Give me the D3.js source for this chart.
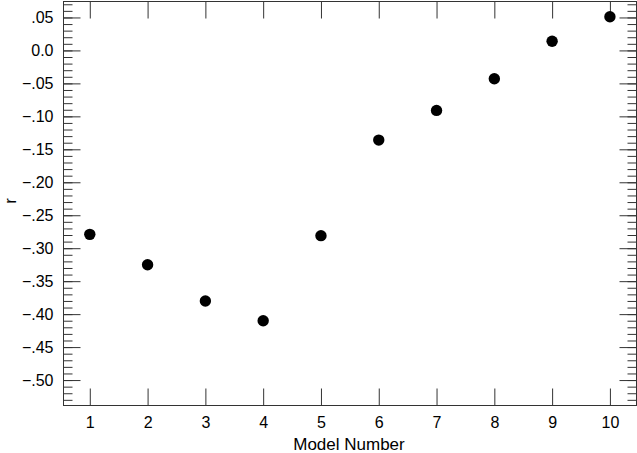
<!DOCTYPE html>
<html>
<head>
<meta charset="utf-8">
<script src="https://cdn.jsdelivr.net/npm/d3@7"></script>
<style>
  html, body { margin: 0; padding: 0; background: #fff; }
  svg { display: block; }
  text { font-family: "Liberation Sans", Arial, Helvetica, sans-serif; fill: #000; }
</style>
</head>
<body>
<svg id="chart" width="637" height="453"></svg>
<script>
// ---- data ----
const modelNumbers = [1, 2, 3, 4, 5, 6, 7, 8, 9, 10];
const rValues = [-0.279, -0.325, -0.380, -0.410, -0.281, -0.136, -0.091, -0.043, 0.014, 0.051];
const xTickValues = [1, 2, 3, 4, 5, 6, 7, 8, 9, 10];
const yMajorTicks = [0.05, 0.0, -0.05, -0.10, -0.15, -0.20, -0.25, -0.30, -0.35, -0.40, -0.45, -0.50];
const yMinorTicks = d3.range(-53, 8).map(d => d / 100);
const xLabel = "Model Number";
const yLabel = "r";

// ---- layout ----
const svg = d3.select("#chart");
const L = 63.5, R = 636.5, T = 1.5, B = 405.5;

const x = d3.scaleLinear().domain([0.545, 10.46]).range([L, R]);
const y = d3.scaleLinear().domain([-0.5386, 0.0742]).range([B, T]);

function fmtY(v) {
  if (Math.abs(v) < 1e-9) return "0.0";
  let s = Math.abs(v).toFixed(2).replace(/^0/, "");
  return (v < 0 ? "\u2212" : "") + s;
}

const axisColor = "#333";

// minor y ticks (left & right)
const gMinL = svg.append("g").attr("transform", `translate(${L},0)`)
  .call(d3.axisLeft(y).tickValues(yMinorTicks).tickSize(-9).tickFormat(""));
const gMinR = svg.append("g").attr("transform", `translate(${R},0)`)
  .call(d3.axisRight(y).tickValues(yMinorTicks).tickSize(-9).tickFormat(""));

// major y ticks
const gYL = svg.append("g").attr("transform", `translate(${L},0)`)
  .call(d3.axisLeft(y).tickValues(yMajorTicks).tickSize(-17).tickPadding(10).tickFormat(fmtY));
const gYR = svg.append("g").attr("transform", `translate(${R},0)`)
  .call(d3.axisRight(y).tickValues(yMajorTicks).tickSize(-17).tickFormat(""));

// x ticks
const gXB = svg.append("g").attr("transform", `translate(0,${B})`)
  .call(d3.axisBottom(x).tickValues(xTickValues).tickSize(-17).tickPadding(11).tickFormat(d3.format("d")));
const gXT = svg.append("g").attr("transform", `translate(0,${T})`)
  .call(d3.axisTop(x).tickValues(xTickValues).tickSize(-17).tickFormat(""));

[gMinL, gMinR, gYL, gYR, gXB, gXT].forEach(g => {
  g.select(".domain").remove();
  g.selectAll(".tick line").attr("stroke", axisColor).attr("stroke-width", 1);
  g.selectAll(".tick text").style("font-size", "16px").attr("fill", "#000");
});

// frame
svg.append("rect")
  .attr("x", L).attr("y", T)
  .attr("width", R - L).attr("height", B - T)
  .attr("fill", "none").attr("stroke", axisColor).attr("stroke-width", 1);

// points
svg.append("g").selectAll("circle")
  .data(modelNumbers.map((m, i) => ({ m, r: rValues[i] })))
  .join("circle")
  .attr("cx", d => x(d.m))
  .attr("cy", d => y(d.r))
  .attr("r", 5.7)
  .attr("fill", "#000");

// axis titles
svg.append("text")
  .attr("x", (L + R) / 2 - 1).attr("y", 450)
  .attr("text-anchor", "middle")
  .style("font-size", "17px")
  .text(xLabel);

svg.append("text")
  .attr("transform", `translate(16,201) rotate(-90)`)
  .attr("text-anchor", "middle")
  .style("font-size", "17px")
  .text(yLabel);
</script>
</body>
</html>
